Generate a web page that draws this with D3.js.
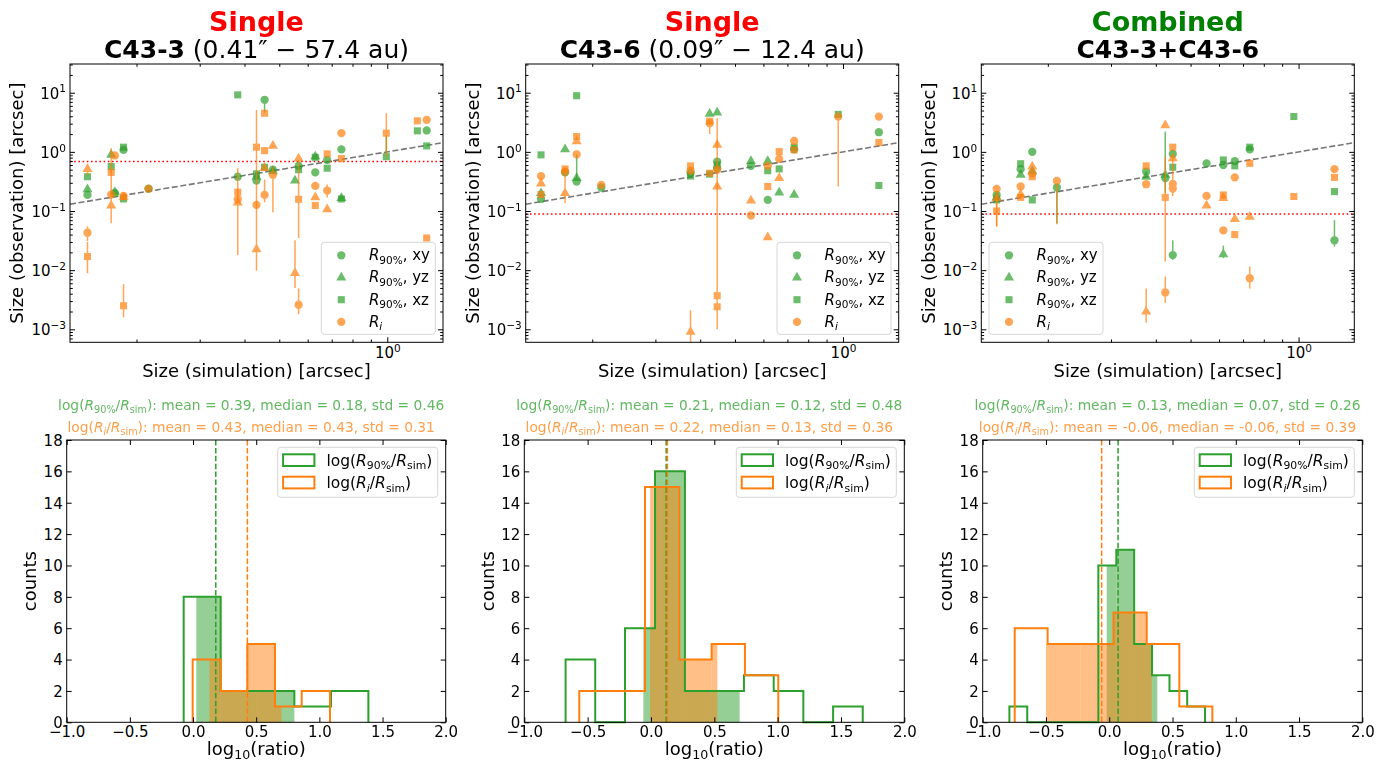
<!DOCTYPE html>
<html lang="en">
<head>
<meta charset="UTF-8">
<title>Observed vs simulated sizes</title>
<script src="https://cdn.jsdelivr.net/npm/d3@7"></script>
<style>
  body { margin: 0; background: #fff; }
  svg { font-family: "DejaVu Sans", sans-serif; }
</style>
</head>
<body>
<svg id="chart" width="1390" height="765"></svg>
<script>
// ---------- data: [R_sim, R_obs, errLow, errHigh] (arcsec) ----------
// C43-3
const c33_R90_xy = [[0.146,0.187],[0.174,0.20],[0.184,1.08],[0.216,0.24],[0.383,0.38],[0.432,0.327],[0.455,7.6,4.6,7.8],[0.48,0.50],[0.566,0.58],[0.63,0.45],[0.68,0.73],[0.745,1.1],[1.288,2.3]];
const c33_R90_yz = [[0.146,0.233],[0.170,0.89],[0.174,0.21],[0.432,0.38],[0.48,0.47],[0.553,0.327],[0.63,0.83],[0.745,0.165]];
const c33_R90_xz = [[0.146,0.38],[0.170,0.565],[0.184,1.2],[0.184,0.16],[0.383,9.2],[0.432,0.425],[0.455,0.55],[0.566,0.50],[0.63,0.81],[0.68,0.53],[0.745,0.16],[0.994,0.83,0.8,1.9],[1.213,2.27],[1.288,1.26]];
const c33_Ri_xy = [[0.146,0.043,0.031,0.055],[0.174,0.87],[0.170,0.19],[0.184,0.18],[0.216,0.237],[0.383,0.158],[0.432,0.127],[0.455,0.187,0.14,0.34],[0.48,0.41,0.095,0.56],[0.566,0.0026,0.0018,0.0049],[0.63,0.266],[0.68,0.222,0.17,0.28],[0.745,2.07],[1.288,3.48]];
const c33_Ri_yz = [[0.146,0.51,0.4,0.62],[0.170,0.124,0.062,1.15],[0.184,0.17],[0.383,0.139,0.018,0.53],[0.432,0.0225,0.0098,0.035],[0.455,0.53],[0.48,1.26],[0.553,0.0089,0.005,0.032],[0.566,0.77],[0.63,0.171],[0.68,0.107]];
const c33_Ri_xz = [[0.146,0.017,0.0089,0.03],[0.170,0.45],[0.184,0.0025,0.0016,0.0058],[0.383,0.208],[0.432,1.2,0.035,5.1],[0.455,4.5],[0.455,1.05],[0.566,0.158,0.035,0.73],[0.63,0.124],[0.68,0.925],[0.745,0.77],[0.994,2.07,0.83,4.5],[1.213,3.35],[1.288,0.035]];
// C43-6
const c36_R90_xy = [[0.144,0.16],[0.168,0.45],[0.181,0.315,0.3,0.9],[0.212,0.25],[0.376,0.44],[0.446,0.686],[0.446,0.53],[0.554,0.58],[0.617,0.154],[0.731,1.1],[1.259,2.15]];
const c36_R90_yz = [[0.144,0.2],[0.168,1.1],[0.181,0.36],[0.425,4.4],[0.446,4.6],[0.554,0.7],[0.617,0.7],[0.664,0.205],[0.731,0.187]];
const c36_R90_xz = [[0.144,0.89],[0.181,8.9],[0.376,0.39],[0.425,0.42],[0.446,0.6],[0.617,0.48],[0.664,0.515],[0.731,1.2],[0.97,4.3],[1.259,0.27]];
const c36_Ri_xy = [[0.144,0.39],[0.168,0.465],[0.181,0.91],[0.212,0.277],[0.376,0.48],[0.425,3.05,2.0,3.3],[0.446,0.5],[0.554,0.084],[0.617,0.58],[0.664,0.76],[0.731,1.53],[0.97,3.95,0.26,3.95],[1.259,3.95]];
const c36_Ri_yz = [[0.144,0.29],[0.168,0.2,0.135,0.41],[0.181,1.5],[0.376,0.00091,0.0006,0.0021],[0.446,1.31],[0.446,0.26],[0.554,0.15],[0.617,0.036],[0.664,0.36]];
const c36_Ri_xz = [[0.144,0.19],[0.168,0.515],[0.181,1.82],[0.376,0.58],[0.425,3.3],[0.425,0.435],[0.446,0.0037],[0.446,0.0024,0.001,3.7],[0.617,0.26],[0.664,1.01],[0.731,1.08],[1.259,1.44]];
// combined
const cmb_R90_xy = [[0.144,0.187],[0.168,0.51],[0.181,1.0],[0.212,0.25,0.062,0.25],[0.376,0.465],[0.425,0.36],[0.446,0.925],[0.446,0.018,0.015,0.032],[0.554,0.64],[0.617,0.6],[0.664,0.7],[0.731,1.1],[1.259,0.032,0.025,0.07]];
const cmb_R90_yz = [[0.144,0.17],[0.168,0.41],[0.181,0.47],[0.376,0.38],[0.425,0.41,0.2,2.2],[0.617,0.0186,0.016,0.026]];
const cmb_R90_xz = [[0.144,0.154],[0.168,0.63],[0.181,0.154],[0.446,0.55],[0.617,0.73],[0.664,0.58],[0.731,1.2],[0.97,3.96],[1.259,0.213]];
const cmb_Ri_xy = [[0.144,0.237],[0.168,0.26],[0.181,0.435],[0.212,0.323,0.06,0.323],[0.376,0.284],[0.425,0.0042,0.0028,0.0078],[0.446,0.287],[0.446,0.24,0.18,0.8],[0.554,0.18],[0.617,0.047],[0.664,0.37],[0.731,0.0073,0.0049,0.0115],[1.259,0.51]];
const cmb_Ri_yz = [[0.144,0.165,0.055,0.2],[0.168,0.19],[0.181,0.565],[0.376,0.002,0.0013,0.0049],[0.425,2.8],[0.446,0.78],[0.554,0.124],[0.617,0.165],[0.664,0.073],[0.731,0.08]];
const cmb_Ri_xz = [[0.144,0.10,0.055,0.2],[0.168,0.17],[0.181,0.38],[0.376,0.58],[0.425,0.17,0.014,0.83],[0.446,1.2],[0.617,0.187],[0.664,0.04],[0.731,0.64],[0.97,0.176],[1.259,0.37]];

// resolution (red dotted line)
const beamSize = [0.686, 0.089, 0.089];

// ---------- histograms: bin edges + counts ----------
const h1_R90_edges = [-0.074,0.219,0.51,0.802,1.092,1.388], h1_R90_counts = [8,2,2,1,2];
const h1_Ri_edges = [-0.003,0.219,0.43,0.649,0.86,1.084], h1_Ri_counts = [4,2,5,1,2];
const h1_R90_fillEdges = [0.026,0.219,0.509,0.802], h1_R90_fillCounts = [8,2,2];
const h1_Ri_fillEdges = [0.13,0.219,0.43,0.649,0.70], h1_Ri_fillCounts = [4,2,5,1];

const h2_R90_edges = [-0.674,-0.44,-0.205,0.032,0.268,0.5,0.734,0.969,1.203,1.438,1.672], h2_R90_counts = [4,0,6,16,2,2,3,2,0,1];
const h2_Ri_edges = [-0.566,-0.307,-0.047,0.224,0.479,0.742,1.005], h2_Ri_counts = [2,2,15,4,5,3];
const h2_R90_fillEdges = [-0.06,0.032,0.268,0.5,0.70], h2_R90_fillCounts = [6,16,2,2];
const h2_Ri_fillEdges = [-0.007,0.224,0.479,0.524], h2_Ri_fillCounts = [15,4,5];

const h3_R90_edges = [-0.789,-0.648,-0.507,-0.366,-0.226,-0.086,0.056,0.197,0.338,0.476,0.616,0.757], h3_R90_counts = [1,0,0,0,0,10,11,5,3,2,1];
const h3_Ri_edges = [-0.747,-0.487,-0.226,0.034,0.296,0.554,0.815], h3_Ri_counts = [6,5,5,7,5,1];
const h3_R90_fillEdges = [-0.02,0.056,0.197,0.338,0.38], h3_R90_fillCounts = [10,11,5,3];
const h3_Ri_fillEdges = [-0.50,-0.226,0.034,0.296,0.336], h3_Ri_fillCounts = [5,5,7,5];

// stats [mean, median, std]
const stats_R90 = [[0.39,0.18,0.46],[0.21,0.12,0.48],[0.13,0.07,0.26]];
const stats_Ri = [[0.43,0.43,0.31],[0.22,0.13,0.36],[-0.06,-0.06,0.39]];

const titleTop = ["Single", "Single", "Combined"];
const titleTopColor = ["#ff0000", "#ff0000", "#008000"];
const titleName = ["C43-3", "C43-6", "C43-3+C43-6"];
const titleExtra = [" (0.41\u2033 \u2212 57.4 au)", " (0.09\u2033 \u2212 12.4 au)", ""];

// ---------- layout ----------
const GREEN = "#2ca02c", ORANGE = "#ff7f0e";
const topY = [64, 342.3], botY = [440, 722.3];
const topX = [[70, 443], [525.7, 898.7], [981.3, 1354.3]];
const botX = [[66.7, 445.7], [524.3, 904.3], [982.7, 1362.3]];
const xDom = [0.1305, 1.43], yDom = [6.03e-4, 30.6];
const TICK_FS = 15;

const svg = d3.select("#chart");

// text with italic / sub / superscript parts
function addMath(t, parts, fs) {
  let shift = 0;
  parts.forEach(p => {
    const target = p.sub ? fs * 0.22 : p.sup ? -fs * 0.42 : 0;
    const ts = t.append("tspan").text(p.t).attr("dy", target - shift);
    shift = target;
    if (p.sub || p.sup) ts.attr("font-size", fs * 0.7);
    if (p.it) ts.attr("font-style", "italic");
    if (p.bold) ts.attr("font-weight", "bold");
  });
  return t;
}
const sup10 = v => {
  const e = Math.round(Math.log10(v));
  return [{t: "10"}, {t: (e < 0 ? "\u2212" : "") + Math.abs(e), sup: true}];
};
const R90 = [{t: "R", it: true}, {t: "90%", sub: true}];
const Ri = [{t: "R", it: true}, {t: "i", sub: true, it: true}];
const Rsim = [{t: "R", it: true}, {t: "sim", sub: true}];

function styleAxis(g, fs) {
  g.select(".domain").remove();
  g.selectAll(".tick line").attr("stroke", "#000").attr("stroke-width", 1);
  g.selectAll("text").attr("font-size", fs).attr("fill", "#000").attr("font-family", "DejaVu Sans");
}

function logMinor(dom) {
  const out = [];
  for (let e = -5; e <= 3; e++) for (let k = 2; k <= 9; k++) {
    const v = k * Math.pow(10, e);
    if (v > dom[0] && v < dom[1]) out.push(v);
  }
  return out;
}
function logMajor(dom) {
  const out = [];
  for (let e = -5; e <= 3; e++) { const v = Math.pow(10, e); if (v >= dom[0] && v <= dom[1]) out.push(v); }
  return out;
}

const symCircle = d3.symbol().type(d3.symbolCircle).size(54)();
const symTri = d3.symbol().type(d3.symbolTriangle).size(44)();
const symSquare = d3.symbol().type(d3.symbolSquare).size(50)();

function drawScatter(i, series) {
  const [x0, x1] = topX[i];
  const x = d3.scaleLog().domain(xDom).range([x0, x1]);
  const y = d3.scaleLog().domain(yDom).range([topY[1], topY[0]]);
  const g = svg.append("g");
  const clipId = "clipS" + i;
  g.append("clipPath").attr("id", clipId).append("rect")
    .attr("x", x0).attr("y", topY[0]).attr("width", x1 - x0).attr("height", topY[1] - topY[0]);
  const inner = g.append("g").attr("clip-path", `url(#${clipId})`);

  inner.append("line").attr("x1", x0).attr("x2", x1)
    .attr("y1", y(beamSize[i])).attr("y2", y(beamSize[i]))
    .attr("stroke", "red").attr("stroke-width", 1.6).attr("stroke-dasharray", "1.6,2.6");
  inner.append("line")
    .attr("x1", x(xDom[0])).attr("y1", y(xDom[0])).attr("x2", x(xDom[1])).attr("y2", y(xDom[1]))
    .attr("stroke", "#777").attr("stroke-width", 1.6).attr("stroke-dasharray", "6,2.6");

  series.forEach(s => {
    const sg = inner.append("g").attr("opacity", 0.7);
    s.data.filter(d => d[2] != null).forEach(d => {
      sg.append("line").attr("x1", x(d[0])).attr("x2", x(d[0]))
        .attr("y1", y(d[2])).attr("y2", y(d[3]))
        .attr("stroke", s.color).attr("stroke-width", 1.5);
    });
    sg.selectAll("path").data(s.data).join("path")
      .attr("d", s.sym)
      .attr("transform", d => `translate(${x(d[0])},${y(d[1])})`)
      .attr("fill", s.color);
  });

  // axes, ticks inward on all sides
  const tk = 5, tkm = 2.8;
  const bottom = g.append("g").attr("transform", `translate(0,${topY[1]})`)
    .call(d3.axisBottom(x).tickValues(logMajor(xDom)).tickSize(-tk).tickPadding(4));
  styleAxis(bottom, TICK_FS);
  bottom.selectAll(".tick text").each(function(d) {
    const t = d3.select(this).text(null).attr("y", 15.5).attr("dy", 0);
    addMath(t, sup10(d), TICK_FS);
  });
  styleAxis(g.append("g").attr("transform", `translate(0,${topY[1]})`)
    .call(d3.axisBottom(x).tickValues(logMinor(xDom)).tickSize(-tkm).tickFormat("")), TICK_FS);
  styleAxis(g.append("g").attr("transform", `translate(0,${topY[0]})`)
    .call(d3.axisTop(x).tickValues(logMajor(xDom)).tickSize(-tk).tickFormat("")), TICK_FS);
  styleAxis(g.append("g").attr("transform", `translate(0,${topY[0]})`)
    .call(d3.axisTop(x).tickValues(logMinor(xDom)).tickSize(-tkm).tickFormat("")), TICK_FS);

  const left = g.append("g").attr("transform", `translate(${x0},0)`)
    .call(d3.axisLeft(y).tickValues(logMajor(yDom)).tickSize(-tk).tickPadding(4));
  styleAxis(left, TICK_FS);
  left.selectAll(".tick text").each(function(d) {
    const t = d3.select(this).text(null).attr("dy", 0).attr("y", 5.5);
    addMath(t, sup10(d), TICK_FS);
  });
  styleAxis(g.append("g").attr("transform", `translate(${x0},0)`)
    .call(d3.axisLeft(y).tickValues(logMinor(yDom)).tickSize(-tkm).tickFormat("")), TICK_FS);
  styleAxis(g.append("g").attr("transform", `translate(${x1},0)`)
    .call(d3.axisRight(y).tickValues(logMajor(yDom)).tickSize(-tk).tickFormat("")), TICK_FS);
  styleAxis(g.append("g").attr("transform", `translate(${x1},0)`)
    .call(d3.axisRight(y).tickValues(logMinor(yDom)).tickSize(-tkm).tickFormat("")), TICK_FS);

  g.append("rect").attr("x", x0).attr("y", topY[0]).attr("width", x1 - x0).attr("height", topY[1] - topY[0])
    .attr("fill", "none").attr("stroke", "#000").attr("stroke-width", 1);

  g.append("text").attr("x", (x0 + x1) / 2).attr("y", 377).attr("text-anchor", "middle")
    .attr("font-size", 18).text("Size (simulation) [arcsec]");
  g.append("text").attr("transform", `translate(${x0 - 53},${(topY[0] + topY[1]) / 2}) rotate(-90)`)
    .attr("dy", "0.35em").attr("text-anchor", "middle").attr("font-size", 18)
    .text("Size (observation) [arcsec]");

  // legend
  const lw = 114, lh = 92;
  const lx = i === 2 ? x0 + 7.7 : x1 - 7.7 - lw, ly = topY[1] - 8 - lh;
  const leg = g.append("g").attr("transform", `translate(${lx},${ly})`);
  leg.append("rect").attr("width", lw).attr("height", lh).attr("rx", 3)
    .attr("fill", "#fff").attr("fill-opacity", 0.8).attr("stroke", "#d6d6d6");
  const items = [
    {sym: symCircle, color: GREEN, label: R90.concat([{t: ", xy"}])},
    {sym: symTri, color: GREEN, label: R90.concat([{t: ", yz"}])},
    {sym: symSquare, color: GREEN, label: R90.concat([{t: ", xz"}])},
    {sym: symCircle, color: ORANGE, label: Ri}
  ];
  items.forEach((it, k) => {
    const cy = 13 + k * 22.2;
    leg.append("path").attr("d", it.sym).attr("transform", `translate(20,${cy})`)
      .attr("fill", it.color).attr("opacity", 0.7);
    addMath(leg.append("text").attr("x", 47.6).attr("y", cy + 5).attr("font-size", 15), it.label, 15);
  });

  // titles
  const cx = (x0 + x1) / 2;
  g.append("text").attr("x", cx).attr("y", 30.5).attr("text-anchor", "middle")
    .attr("font-size", 27).attr("font-weight", "bold").attr("fill", titleTopColor[i]).text(titleTop[i]);
  const t2 = g.append("text").attr("x", cx).attr("y", 58).attr("text-anchor", "middle").attr("font-size", 25);
  t2.append("tspan").attr("font-weight", "bold").text(titleName[i]);
  if (titleExtra[i]) t2.append("tspan").text(titleExtra[i]);
}

function stepPath(x, y, edges, counts) {
  let p = `M${x(edges[0])},${y(0)}`;
  counts.forEach((c, k) => { p += `L${x(edges[k])},${y(c)}L${x(edges[k + 1])},${y(c)}`; });
  p += `L${x(edges[edges.length - 1])},${y(0)}`;
  return p;
}

function drawHist(i, h) {
  const [x0, x1] = botX[i];
  const x = d3.scaleLinear().domain([-1, 2]).range([x0, x1]);
  const y = d3.scaleLinear().domain([0, 18]).range([botY[1], botY[0]]);
  const g = svg.append("g");

  const fills = [[h.gFillE, h.gFillC, GREEN], [h.oFillE, h.oFillC, ORANGE]];
  fills.forEach(([e, c, col]) => {
    g.append("g").selectAll("rect").data(c).join("rect")
      .attr("x", (d, k) => x(e[k])).attr("width", (d, k) => x(e[k + 1]) - x(e[k]))
      .attr("y", d => y(d)).attr("height", d => y(0) - y(d))
      .attr("fill", col).attr("fill-opacity", 0.5);
  });
  g.append("path").attr("d", stepPath(x, y, h.gE, h.gC)).attr("fill", "none").attr("stroke", GREEN).attr("stroke-width", 2);
  g.append("path").attr("d", stepPath(x, y, h.oE, h.oC)).attr("fill", "none").attr("stroke", ORANGE).attr("stroke-width", 2);

  [[stats_R90[i][1], GREEN], [stats_Ri[i][1], ORANGE]].forEach(([m, col]) => {
    g.append("line").attr("x1", x(m)).attr("x2", x(m)).attr("y1", botY[0]).attr("y2", botY[1])
      .attr("stroke", col).attr("stroke-width", 1.5).attr("stroke-dasharray", "5.5,2.4");
  });

  const tk = 5;
  const bottom = g.append("g").attr("transform", `translate(0,${botY[1]})`)
    .call(d3.axisBottom(x).tickValues(d3.range(-1, 2.01, 0.5)).tickSize(-tk)
      .tickFormat(d => d3.format(".1f")(d).replace("-", "\u2212")));
  styleAxis(bottom, TICK_FS);
  bottom.selectAll(".tick text").attr("y", 15).attr("dy", 0);
  styleAxis(g.append("g").attr("transform", `translate(0,${botY[0]})`)
    .call(d3.axisTop(x).tickValues(d3.range(-1, 2.01, 0.5)).tickSize(-tk).tickFormat("")), TICK_FS);
  const left = g.append("g").attr("transform", `translate(${x0},0)`)
    .call(d3.axisLeft(y).tickValues(d3.range(0, 19, 2)).tickSize(-tk).tickPadding(4));
  styleAxis(left, TICK_FS);
  left.selectAll(".tick text").attr("dy", "0.36em");
  styleAxis(g.append("g").attr("transform", `translate(${x1},0)`)
    .call(d3.axisRight(y).tickValues(d3.range(0, 19, 2)).tickSize(-tk).tickFormat("")), TICK_FS);

  g.append("rect").attr("x", x0).attr("y", botY[0]).attr("width", x1 - x0).attr("height", botY[1] - botY[0])
    .attr("fill", "none").attr("stroke", "#000").attr("stroke-width", 1);

  const cx = (x0 + x1) / 2;
  addMath(g.append("text").attr("x", cx).attr("y", 755).attr("text-anchor", "middle").attr("font-size", 18),
    [{t: "log"}, {t: "10", sub: true}, {t: "(ratio)"}], 18);
  g.append("text").attr("transform", `translate(${x0 - 37},${(botY[0] + botY[1]) / 2}) rotate(-90)`)
    .attr("dy", "0.35em").attr("text-anchor", "middle").attr("font-size", 18).text("counts");

  // stats lines
  const fmt = v => v.toFixed(2);
  const s1 = stats_R90[i], s2 = stats_Ri[i];
  addMath(g.append("text").attr("x", cx - 5).attr("y", 410).attr("text-anchor", "middle")
    .attr("font-size", 13.8).attr("fill", GREEN).attr("fill-opacity", 0.75),
    [{t: "log("}].concat(R90, [{t: "/"}], Rsim,
      [{t: `): mean = ${fmt(s1[0])}, median = ${fmt(s1[1])}, std = ${fmt(s1[2])}`}]), 13.8);
  addMath(g.append("text").attr("x", cx - 5).attr("y", 432).attr("text-anchor", "middle")
    .attr("font-size", 13.8).attr("fill", ORANGE).attr("fill-opacity", 0.75),
    [{t: "log("}].concat(Ri, [{t: "/"}], Rsim,
      [{t: `): mean = ${fmt(s2[0])}, median = ${fmt(s2[1])}, std = ${fmt(s2[2])}`}]), 13.8);

  // legend
  const lw = 160, lh = 50;
  const leg = g.append("g").attr("transform", `translate(${x1 - 8 - lw},${botY[0] + 7.3})`);
  leg.append("rect").attr("width", lw).attr("height", lh).attr("rx", 3)
    .attr("fill", "#fff").attr("fill-opacity", 0.8).attr("stroke", "#d6d6d6");
  [[GREEN, [{t: "log("}].concat(R90, [{t: "/"}], Rsim, [{t: ")"}])],
   [ORANGE, [{t: "log("}].concat(Ri, [{t: "/"}], Rsim, [{t: ")"}])]].forEach(([col, lab], k) => {
    const yy = 7 + k * 22.4;
    leg.append("rect").attr("x", 5.4).attr("y", yy).attr("width", 31.3).attr("height", 11.7)
      .attr("fill", "none").attr("stroke", col).attr("stroke-width", 2);
    addMath(leg.append("text").attr("x", 48.7).attr("y", yy + 11.5).attr("font-size", 15.5), lab, 15.5);
  });
}

const scatterSets = [
  [c33_R90_xy, c33_R90_yz, c33_R90_xz, c33_Ri_xy, c33_Ri_yz, c33_Ri_xz],
  [c36_R90_xy, c36_R90_yz, c36_R90_xz, c36_Ri_xy, c36_Ri_yz, c36_Ri_xz],
  [cmb_R90_xy, cmb_R90_yz, cmb_R90_xz, cmb_Ri_xy, cmb_Ri_yz, cmb_Ri_xz]
];
scatterSets.forEach((s, i) => {
  drawScatter(i, [
    {data: s[0], sym: symCircle, color: GREEN},
    {data: s[1], sym: symTri, color: GREEN},
    {data: s[2], sym: symSquare, color: GREEN},
    {data: s[3], sym: symCircle, color: ORANGE},
    {data: s[4], sym: symTri, color: ORANGE},
    {data: s[5], sym: symSquare, color: ORANGE}
  ]);
});

const histSets = [
  {gE: h1_R90_edges, gC: h1_R90_counts, oE: h1_Ri_edges, oC: h1_Ri_counts,
   gFillE: h1_R90_fillEdges, gFillC: h1_R90_fillCounts, oFillE: h1_Ri_fillEdges, oFillC: h1_Ri_fillCounts},
  {gE: h2_R90_edges, gC: h2_R90_counts, oE: h2_Ri_edges, oC: h2_Ri_counts,
   gFillE: h2_R90_fillEdges, gFillC: h2_R90_fillCounts, oFillE: h2_Ri_fillEdges, oFillC: h2_Ri_fillCounts},
  {gE: h3_R90_edges, gC: h3_R90_counts, oE: h3_Ri_edges, oC: h3_Ri_counts,
   gFillE: h3_R90_fillEdges, gFillC: h3_R90_fillCounts, oFillE: h3_Ri_fillEdges, oFillC: h3_Ri_fillCounts}
];
histSets.forEach((h, i) => drawHist(i, h));
</script>
</body>
</html>
